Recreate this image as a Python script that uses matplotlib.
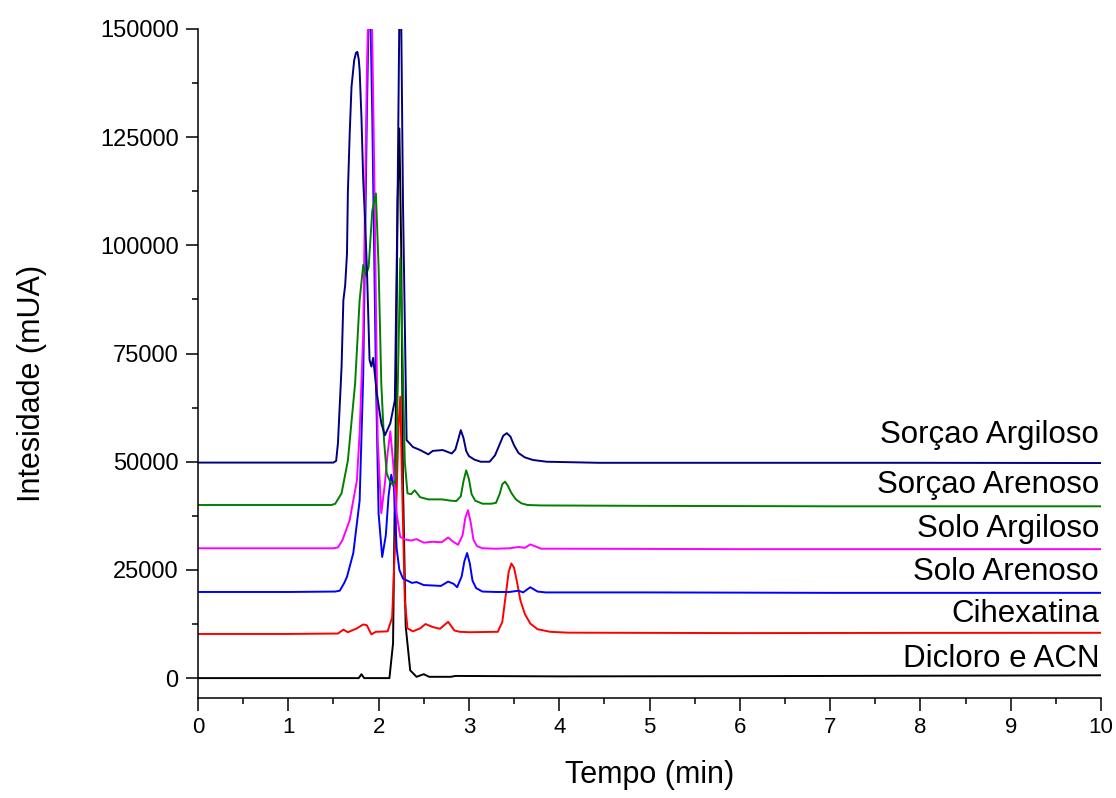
import matplotlib
matplotlib.use("Agg")
import matplotlib.pyplot as plt
from matplotlib.ticker import MultipleLocator

plt.rcParams['font.family'] = ['Liberation Sans', 'DejaVu Sans']

# Dicloro e ACN
t_dicloro = [0, 1.0, 1.78, 1.81, 1.84, 2.12, 2.16, 2.19, 2.21, 2.23, 2.25, 2.27, 2.30, 2.35, 2.42,
             2.5, 2.56, 2.8, 2.85, 4.0, 6.0, 8.0, 10.0]
y_dicloro = [0, 0, 0, 900, 0, 0, 8000, 60000, 110000, 127000, 100000, 45000, 12000, 1800, 300,
             900, 300, 300, 500, 400, 450, 550, 650]

# Cihexatina
t_cihex = [0, 1.0, 1.55, 1.61, 1.66, 1.76, 1.83, 1.87, 1.92, 1.97, 2.1, 2.15, 2.19, 2.22, 2.24,
           2.26, 2.29, 2.32, 2.38, 2.46, 2.52, 2.6, 2.68, 2.77, 2.84, 2.9, 3.0, 3.32, 3.37, 3.41,
           3.44, 3.47, 3.5, 3.53, 3.57, 3.62, 3.68, 3.76, 3.9, 4.1, 6, 8, 10]
y_cihex = [10200, 10200, 10300, 11200, 10600, 11500, 12400, 12200, 10100, 10700, 10800, 14000,
           35000, 58000, 65000, 45000, 18000, 11500, 10800, 11500, 12500, 11800, 11400, 13000,
           11000, 10700, 10600, 10700, 13000, 19500, 24500, 26500, 25500, 22500, 18000, 14800,
           12600, 11300, 10700, 10500, 10400, 10450, 10470]

# Solo Arenoso
t_solo_are = [0, 1.0, 1.52, 1.57, 1.62, 1.65, 1.72, 1.79, 1.83, 1.87, 1.90, 1.93, 1.97, 2.0, 2.04,
              2.08, 2.11, 2.14, 2.17, 2.2, 2.23, 2.27, 2.31, 2.37, 2.42, 2.5, 2.6, 2.69, 2.77,
              2.83, 2.87, 2.92, 2.95, 2.98, 3.01, 3.04, 3.08, 3.15, 3.3, 3.45, 3.55, 3.6, 3.68,
              3.76, 3.85, 5, 7, 10]
y_solo_are = [19900, 19900, 20000, 20200, 22000, 23400, 28900, 41000, 70000, 130000, 165000,
              130000, 70000, 38000, 28000, 33000, 42000, 47000, 44000, 30000, 25000, 23000,
              22600, 22000, 22200, 21500, 21400, 21300, 22300, 21800, 21000, 23500, 27000,
              28900, 26500, 22500, 20800, 20000, 19900, 19900, 20200, 19800, 21000, 20000,
              19800, 19800, 19700, 19700]

# Solo Argiloso
t_solo_arg = [0, 1.0, 1.5, 1.55, 1.6, 1.68, 1.76, 1.79, 1.83, 1.87, 1.91, 1.95, 1.99, 2.03, 2.07,
              2.1, 2.13, 2.16, 2.2, 2.24, 2.3, 2.36, 2.42, 2.5, 2.6, 2.7, 2.77, 2.82, 2.88, 2.93,
              2.96, 2.99, 3.02, 3.05, 3.09, 3.15, 3.3, 3.45, 3.55, 3.62, 3.68, 3.74, 3.8, 4.0,
              6, 8, 10]
y_solo_arg = [30000, 30000, 30000, 30200, 31900, 36500, 45700, 56600, 80000, 140000, 175000,
              120000, 55000, 38100, 45000, 52000, 57000, 50000, 38000, 32600, 32000, 31800,
              32100, 31300, 31500, 31400, 32500, 31600, 30800, 33000, 37000, 38800, 36000,
              32000, 30500, 30000, 29900, 30000, 30300, 30100, 30900, 30400, 29900, 29900,
              29800, 29800, 29800]

# Sorçao Arenoso
t_sorc_are = [0, 1.0, 1.48, 1.52, 1.59, 1.66, 1.74, 1.79, 1.83, 1.86, 1.89, 1.93, 1.97, 2.0, 2.03,
              2.06, 2.09, 2.13, 2.16, 2.19, 2.22, 2.24, 2.26, 2.29, 2.32, 2.36, 2.40, 2.46, 2.55,
              2.7, 2.8, 2.86, 2.91, 2.94, 2.97, 3.0, 3.03, 3.07, 3.15, 3.25, 3.3, 3.34, 3.37,
              3.4, 3.43, 3.47, 3.52, 3.58, 3.65, 3.8, 5, 7, 10]
y_sorc_are = [40000, 40000, 40000, 40300, 42700, 50300, 68100, 87300, 95500, 93000, 95000,
              108000, 112000, 95000, 68000, 55000, 47300, 45300, 44600, 46000, 75000, 97000,
              80000, 50000, 42700, 42500, 43400, 41800, 41300, 41300, 41000, 40900, 42000,
              45500, 48000, 46000, 42500, 41000, 40300, 40300, 40500, 42500, 44800, 45400,
              44500, 42800, 41300, 40400, 40000, 39900, 39800, 39700, 39700]

# Sorçao Argiloso
t_sorc_arg = [0, 1.0, 1.5, 1.53, 1.55, 1.59, 1.61, 1.63, 1.65, 1.66, 1.68, 1.70, 1.73, 1.75,
              1.765, 1.78, 1.79, 1.81, 1.83, 1.85, 1.87, 1.9, 1.92, 1.94, 1.98, 2.03, 2.07, 2.13,
              2.18, 2.21, 2.24, 2.27, 2.31, 2.38, 2.46, 2.55, 2.6, 2.71, 2.81, 2.85, 2.88, 2.91,
              2.94, 2.97, 3.0, 3.06, 3.13, 3.23, 3.29, 3.34, 3.38, 3.42, 3.46, 3.5, 3.55, 3.62,
              3.71, 3.86, 4.44, 6, 8, 10]
y_sorc_arg = [49800, 49800, 49800, 50200, 54300, 71900, 87300, 90800, 98100, 112300, 125800,
              136600, 142800, 144500, 144700, 143000, 140500, 129700, 115000, 105800, 95000,
              73500, 72000, 74000, 65800, 58900, 56100, 58900, 64200, 110000, 175000, 110000,
              55000, 53400, 52700, 51700, 52500, 52700, 51900, 52800, 55000, 57300, 55500,
              52500, 51300, 50500, 50000, 50000, 51500, 54000, 56000, 56600, 55800, 53800,
              52000, 51000, 50400, 50000, 49750, 49750, 49750, 49700]

nomes = ["Dicloro e ACN", "Cihexatina", "Solo Arenoso", "Solo Argiloso",
         "Sorçao Arenoso", "Sorçao Argiloso"]
linhas = [(t_dicloro, y_dicloro), (t_cihex, y_cihex), (t_solo_are, y_solo_are),
          (t_solo_arg, y_solo_arg), (t_sorc_are, y_sorc_are), (t_sorc_arg, y_sorc_arg)]
cores = ["black", "#ff0000", "#0000ff", "#ff00ff", "#008000", "#000080"]
# altura do texto acima da linha de base
texto_y = [2540, 12900, 22600, 32600, 42700, 54300]

fig = plt.figure(figsize=(11.16, 7.98), dpi=100)
ax = fig.add_axes([0.1774, 0.1253, 0.8092, 0.8384])

for (t, y), c in zip(linhas, cores):
    ax.plot(t, y, color=c, lw=1.4)

for nome, ty in zip(nomes, texto_y):
    ax.text(9.98, ty, nome, ha='right', va='baseline', fontsize=22.5)

ax.set_xlim(0, 10)
ax.set_ylim(-4600, 150000)
ax.xaxis.set_major_locator(MultipleLocator(1))
ax.xaxis.set_minor_locator(MultipleLocator(0.5))
ax.yaxis.set_major_locator(MultipleLocator(25000))
ax.yaxis.set_minor_locator(MultipleLocator(12500))
ax.tick_params(which='major', length=9, width=1.1, labelsize=16, pad=5)
ax.tick_params(axis='y', which='major', labelsize=17)
ax.tick_params(which='minor', length=4.5, width=1.1)

ax.spines['top'].set_visible(False)
ax.spines['right'].set_visible(False)
ax.spines['left'].set_linewidth(1.1)
ax.spines['bottom'].set_linewidth(1.1)

ax.set_xlabel("Tempo (min)", fontsize=22)
ax.set_ylabel("Intesidade (mUA)", fontsize=22)
ax.xaxis.set_label_coords(0.5, -0.092)
ax.yaxis.set_label_coords(-0.167, 0.47)

plt.savefig("out.png", dpi=100)
